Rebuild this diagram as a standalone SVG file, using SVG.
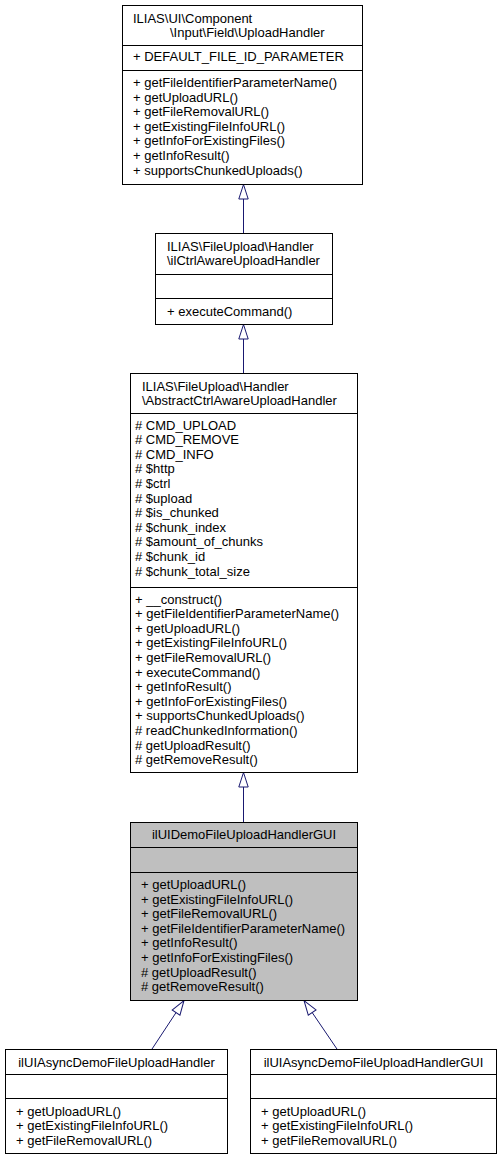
<svg xmlns="http://www.w3.org/2000/svg" width="501" height="1161" viewBox="0 0 501 1161">
<style>
.box{fill:#fff;stroke:#000;stroke-width:1}
.cur{fill:#bfbfbf;stroke:#000;stroke-width:1}
.sep{stroke:#000;stroke-width:1}
text{font-family:"Liberation Sans",Arial,Helvetica,sans-serif;font-size:13px;fill:#000}
.mid{text-anchor:middle}
.edge{stroke:#191970;stroke-width:1;fill:none;marker-end:url(#tri)}
</style>
<defs>
<marker id="tri" markerWidth="18" markerHeight="12" refX="15.5" refY="6" orient="auto" markerUnits="userSpaceOnUse" overflow="visible">
<path d="M1,1.3 L15.5,6 L1,10.7 Z" fill="#fff" stroke="#191970" stroke-width="1"/>
</marker>
</defs>
<rect width="501" height="1161" fill="#fff"/>
<g id="connectors">
<line class="edge" x1="243.5" y1="233.5" x2="243.5" y2="184.5"/>
<line class="edge" x1="243.5" y1="373.5" x2="243.5" y2="324.5"/>
<line class="edge" x1="243.5" y1="822.5" x2="243.5" y2="772.5"/>
<line class="edge" x1="151.7" y1="1049.5" x2="184" y2="1000.5"/>
<line class="edge" x1="337.3" y1="1049.5" x2="304" y2="1000.5"/>
</g>
<g id="UploadHandler">
<rect class="box" x="122.5" y="5.5" width="240" height="179"/>
<text x="133" y="22.5">ILIAS\UI\Component</text>
<text x="170" y="37.1">\Input\Field\UploadHandler</text>
<line class="sep" x1="122.5" y1="45.5" x2="362.5" y2="45.5"/>
<text x="133" y="61">+ DEFAULT_FILE_ID_PARAMETER</text>
<line class="sep" x1="122.5" y1="70.5" x2="362.5" y2="70.5"/>
<text x="133" y="87">+ getFileIdentifierParameterName()</text>
<text x="133" y="101.6">+ getUploadURL()</text>
<text x="133" y="116.2">+ getFileRemovalURL()</text>
<text x="133" y="130.8">+ getExistingFileInfoURL()</text>
<text x="133" y="145.4">+ getInfoForExistingFiles()</text>
<text x="133" y="160">+ getInfoResult()</text>
<text x="133" y="174.6">+ supportsChunkedUploads()</text>
</g>
<g id="ilCtrlAwareUploadHandler">
<rect class="box" x="155.5" y="233.5" width="177" height="91"/>
<text x="167" y="250.5">ILIAS\FileUpload\Handler</text>
<text x="167" y="265.1">\ilCtrlAwareUploadHandler</text>
<line class="sep" x1="155.5" y1="274.5" x2="332.5" y2="274.5"/>
<line class="sep" x1="155.5" y1="298.5" x2="332.5" y2="298.5"/>
<text x="167" y="315.5">+ executeCommand()</text>
</g>
<g id="AbstractCtrlAwareUploadHandler">
<rect class="box" x="130.5" y="373.5" width="227" height="399"/>
<text x="142" y="390.5">ILIAS\FileUpload\Handler</text>
<text x="142" y="405.1">\AbstractCtrlAwareUploadHandler</text>
<line class="sep" x1="130.5" y1="413.5" x2="357.5" y2="413.5"/>
<text x="135" y="429.5"># CMD_UPLOAD</text>
<text x="135" y="444.1"># CMD_REMOVE</text>
<text x="135" y="458.7"># CMD_INFO</text>
<text x="135" y="473.3"># $http</text>
<text x="135" y="487.9"># $ctrl</text>
<text x="135" y="502.5"># $upload</text>
<text x="135" y="517.1"># $is_chunked</text>
<text x="135" y="531.7"># $chunk_index</text>
<text x="135" y="546.3"># $amount_of_chunks</text>
<text x="135" y="560.9"># $chunk_id</text>
<text x="135" y="575.5"># $chunk_total_size</text>
<line class="sep" x1="130.5" y1="587.5" x2="357.5" y2="587.5"/>
<text x="135" y="603.5">+ __construct()</text>
<text x="135" y="618.1">+ getFileIdentifierParameterName()</text>
<text x="135" y="632.7">+ getUploadURL()</text>
<text x="135" y="647.3">+ getExistingFileInfoURL()</text>
<text x="135" y="661.9">+ getFileRemovalURL()</text>
<text x="135" y="676.5">+ executeCommand()</text>
<text x="135" y="691.1">+ getInfoResult()</text>
<text x="135" y="705.7">+ getInfoForExistingFiles()</text>
<text x="135" y="720.3">+ supportsChunkedUploads()</text>
<text x="135" y="734.9"># readChunkedInformation()</text>
<text x="135" y="749.5"># getUploadResult()</text>
<text x="135" y="764.1"># getRemoveResult()</text>
</g>
<g id="ilUIDemoFileUploadHandlerGUI">
<rect class="cur" x="130.5" y="822.5" width="227" height="178"/>
<text class="mid" x="244" y="839">ilUIDemoFileUploadHandlerGUI</text>
<line class="sep" x1="130.5" y1="847.5" x2="357.5" y2="847.5"/>
<line class="sep" x1="130.5" y1="872.5" x2="357.5" y2="872.5"/>
<text x="141" y="889">+ getUploadURL()</text>
<text x="141" y="903.6">+ getExistingFileInfoURL()</text>
<text x="141" y="918.2">+ getFileRemovalURL()</text>
<text x="141" y="932.8">+ getFileIdentifierParameterName()</text>
<text x="141" y="947.4">+ getInfoResult()</text>
<text x="141" y="962">+ getInfoForExistingFiles()</text>
<text x="141" y="976.6"># getUploadResult()</text>
<text x="141" y="991.2"># getRemoveResult()</text>
</g>
<g id="ilUIAsyncDemoFileUploadHandler">
<rect class="box" x="5.5" y="1049.5" width="222" height="104"/>
<text class="mid" x="116.5" y="1066.5">ilUIAsyncDemoFileUploadHandler</text>
<line class="sep" x1="5.5" y1="1074.5" x2="227.5" y2="1074.5"/>
<line class="sep" x1="5.5" y1="1098.5" x2="227.5" y2="1098.5"/>
<text x="16" y="1115.5">+ getUploadURL()</text>
<text x="16" y="1130.1">+ getExistingFileInfoURL()</text>
<text x="16" y="1144.7">+ getFileRemovalURL()</text>
</g>
<g id="ilUIAsyncDemoFileUploadHandlerGUI">
<rect class="box" x="250.5" y="1049.5" width="246" height="104"/>
<text class="mid" x="373.5" y="1066.5">ilUIAsyncDemoFileUploadHandlerGUI</text>
<line class="sep" x1="250.5" y1="1074.5" x2="496.5" y2="1074.5"/>
<line class="sep" x1="250.5" y1="1098.5" x2="496.5" y2="1098.5"/>
<text x="261" y="1115.5">+ getUploadURL()</text>
<text x="261" y="1130.1">+ getExistingFileInfoURL()</text>
<text x="261" y="1144.7">+ getFileRemovalURL()</text>
</g>
</svg>
